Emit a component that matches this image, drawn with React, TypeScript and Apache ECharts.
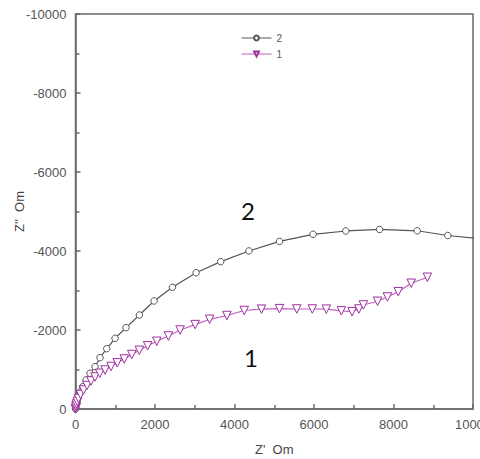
import React, { useEffect, useRef } from "react";
import * as echarts from "echarts";

const seriesNames = ["2", "1"];

// Series "2": [Z', Z'']
const series2: [number, number][] = [
  [0, 0], [13, -51], [38, -152], [63, -278], [113, -430], [181, -565], [265, -734],
  [365, -904], [491, -1071], [617, -1299], [786, -1527], [995, -1790], [1272, -2059],
  [1607, -2380], [1977, -2735], [2438, -3081], [3035, -3451], [3652, -3730],
  [4363, -4001], [5131, -4244], [5975, -4423], [6801, -4507], [7650, -4545],
  [8597, -4512], [9366, -4393], [10250, -4300],
];

// Series "1": [Z', Z'']
const series1: [number, number][] = [
  [0, 0], [8, -25], [13, -76], [25, -127], [45, -190], [76, -266], [126, -367],
  [202, -481], [290, -595], [390, -709], [491, -810], [610, -904], [743, -987],
  [894, -1076], [1050, -1170], [1227, -1266], [1416, -1380], [1605, -1486],
  [1814, -1600], [2045, -1714], [2338, -1848], [2632, -2000], [3010, -2137],
  [3375, -2271], [3809, -2367], [4245, -2494], [4680, -2527], [5131, -2540],
  [5567, -2532], [5957, -2532], [6310, -2527], [6688, -2486], [6958, -2464],
  [7129, -2532], [7242, -2633], [7600, -2727], [7847, -2836], [8119, -2970],
  [8446, -3183], [8852, -3335],
];

const xAxisName = "Z'  Om";
const yAxisName = "Z''  Om";
const annotations = [
  { text: "2", x: 248, y: 210 },
  { text: "1", x: 251, y: 357 },
];

export default function App() {
  const ref = useRef<HTMLDivElement>(null);
  useEffect(() => {
    if (!ref.current) return;
    const chart = echarts.init(ref.current, undefined, { renderer: "svg" });
    const axisColor = "#6a6a6a";
    const labelColor = "#555";
    const fmt = (v: number) => String(v);
    chart.setOption({
      animation: false,
      backgroundColor: "#fff",
      grid: {
        left: 75.5,
        right: 7,
        top: 14,
        bottom: 50,
        show: true,
        borderColor: axisColor,
        borderWidth: 1.5,
        containLabel: false,
        outerBoundsMode: "none",
      },
      legend: {
        orient: "vertical",
        left: 236,
        top: 28,
        itemWidth: 30,
        itemHeight: 6,
        itemGap: 6,
        lineStyle: { width: 1 },
        textStyle: { fontSize: 10, color: labelColor, fontFamily: "Liberation Sans" },
        data: seriesNames,
      },
      xAxis: {
        type: "value",
        min: 0,
        max: 10000,
        interval: 2000,
        name: xAxisName,
        nameLocation: "middle",
        nameGap: 34,
        nameMoveOverlap: false,
        nameTextStyle: { fontSize: 13, color: "#444", fontFamily: "Liberation Sans" },
        axisLine: { show: true, lineStyle: { color: axisColor, width: 1.5 } },
        axisTick: { show: true, inside: true, length: 5, lineStyle: { color: axisColor, width: 1.5 } },
        minorTick: { show: true, splitNumber: 2, length: 4, lineStyle: { color: axisColor, width: 1.5 } },
        splitLine: { show: false },
        axisLabel: { fontSize: 13, color: labelColor, margin: 9, fontFamily: "Liberation Sans", formatter: fmt },
      },
      yAxis: {
        type: "value",
        min: -10000,
        max: 0,
        interval: 2000,
        inverse: true,
        name: yAxisName,
        nameLocation: "middle",
        nameGap: 50,
        nameMoveOverlap: false,
        nameTextStyle: { fontSize: 13, color: "#444", fontFamily: "Liberation Sans" },
        axisLine: { show: true, lineStyle: { color: axisColor, width: 1.5 } },
        axisTick: { show: true, inside: true, length: 5, lineStyle: { color: axisColor, width: 1.5 } },
        minorTick: { show: true, splitNumber: 2, length: 4, lineStyle: { color: axisColor, width: 1.5 } },
        splitLine: { show: false },
        axisLabel: { fontSize: 13, color: labelColor, margin: 9, fontFamily: "Liberation Sans", formatter: fmt },
      },
      series: [
        {
          name: seriesNames[0],
          type: "line",
          data: series2,
          symbol: "circle",
          symbolSize: 6.5,
          clip: true,
          lineStyle: { color: "#555", width: 1.2 },
          itemStyle: { color: "#fff", borderColor: "#555", borderWidth: 1 },
        },
        {
          name: seriesNames[1],
          type: "line",
          data: series1,
          symbol: "triangle",
          symbolRotate: 180,
          symbolSize: 8.5,
          clip: true,
          lineStyle: { color: "#c060c0", width: 1.2 },
          itemStyle: { color: "#fff", borderColor: "#a030a0", borderWidth: 1 },
        },
      ],
      graphic: annotations.map((a) => ({
        type: "text",
        x: a.x,
        y: a.y,
        style: {
          text: a.text,
          fontSize: 24,
          fill: "#111",
          fontFamily: "Lato",
          align: "center",
          verticalAlign: "middle",
        },
      })),
    });
    return () => chart.dispose();
  }, []);
  return (
    <div
      ref={ref}
      style={{ position: "fixed", left: 0, top: 0, width: 480, height: 459 }}
    />
  );
}
